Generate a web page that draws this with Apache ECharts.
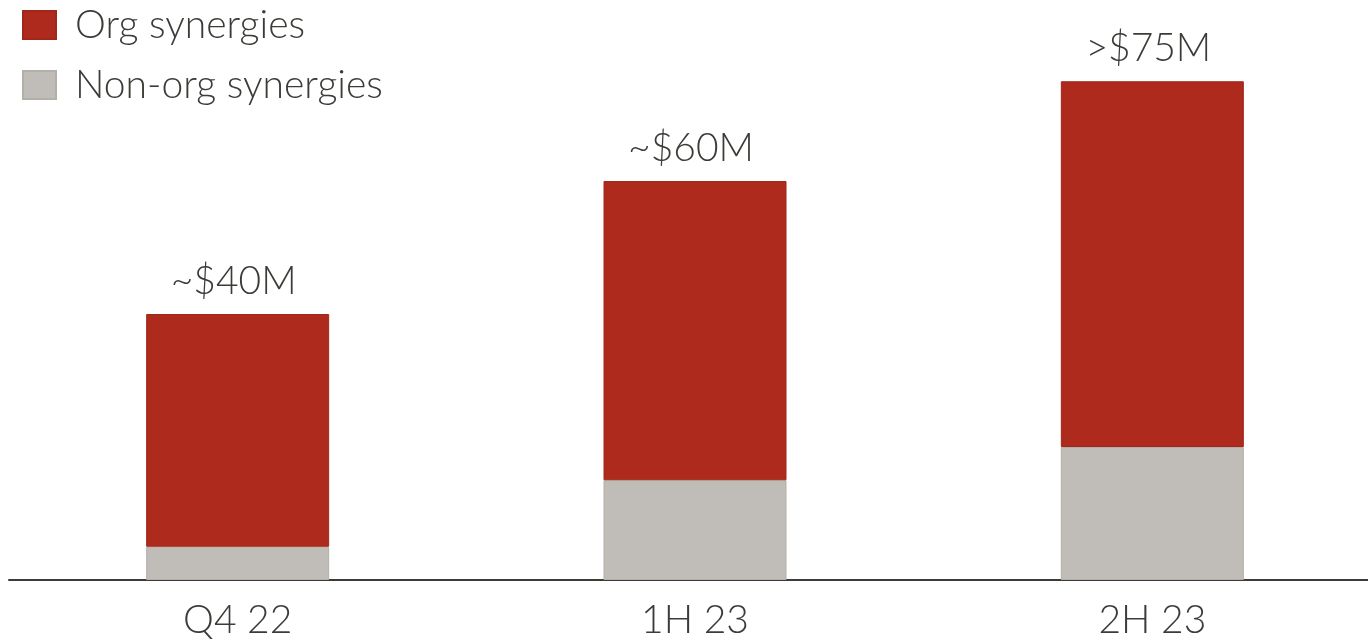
<!DOCTYPE html>
<html>
<head>
<meta charset="utf-8">
<title>Synergies</title>
<script src="https://cdn.jsdelivr.net/npm/echarts@6/dist/echarts.min.js"></script>
<style>
  html, body { margin: 0; padding: 0; background: #ffffff; }
  #chart { width: 1368px; height: 640px; }
</style>
</head>
<body>
<div id="chart"></div>
<script>
// Synergy run-rate by period ($M)
const periods = ['Q4 22', '1H 23', '2H 23'];
const nonOrgSynergies = [5, 15, 20];
const orgSynergies = [35, 45, 55];
const totalLabels = ['~$40M', '~$60M', '>$75M'];

const textColor = '#3d3b37';
const fontFamily = 'Lato, "Open Sans", sans-serif';
const fontWeight = 300;
const fontSize = 39;

const chart = echarts.init(document.getElementById('chart'));

chart.setOption({
  animation: false,
  backgroundColor: '#ffffff',
  textStyle: { fontFamily: fontFamily, color: textColor },
  legend: {
    orient: 'vertical',
    left: 17,
    top: 0,
    itemWidth: 33,
    itemHeight: 28,
    itemGap: 20,
    icon: 'rect',
    textStyle: {
      fontFamily: fontFamily,
      fontWeight: fontWeight,
      fontSize: fontSize,
      color: textColor,
      lineHeight: 40,
      padding: [0, 0, 0, 14]
    },
    data: ['Org synergies', 'Non-org synergies']
  },
  grid: {
    left: 9,
    right: -13,
    top: 48,
    bottom: 60,
    containLabel: false,
    outerBoundsMode: 'none'
  },
  xAxis: {
    type: 'category',
    data: periods,
    axisLine: { show: true, lineStyle: { color: '#3d3b37', width: 2 } },
    axisTick: { show: false },
    axisLabel: {
      fontFamily: fontFamily,
      fontWeight: fontWeight,
      fontSize: fontSize,
      color: textColor,
      margin: 21
    }
  },
  yAxis: {
    type: 'value',
    min: 0,
    max: 80,
    show: false,
    splitLine: { show: false }
  },
  series: [
    {
      name: 'Non-org synergies',
      type: 'bar',
      stack: 'total',
      barWidth: 183,
      data: nonOrgSynergies,
      itemStyle: { color: '#c0bcb7', borderColor: '#b3afa9', borderWidth: 1 }
    },
    {
      name: 'Org synergies',
      type: 'bar',
      stack: 'total',
      barWidth: 183,
      data: orgSynergies,
      itemStyle: { color: '#ae2a1d', borderColor: '#a1271b', borderWidth: 1 },
      label: {
        show: true,
        position: 'top',
        distance: 13,
        offset: [-4, 0],
        fontFamily: fontFamily,
        fontWeight: fontWeight,
        fontSize: fontSize,
        color: textColor,
        formatter: function (p) { return totalLabels[p.dataIndex]; }
      }
    }
  ]
});
</script>
</body>
</html>
